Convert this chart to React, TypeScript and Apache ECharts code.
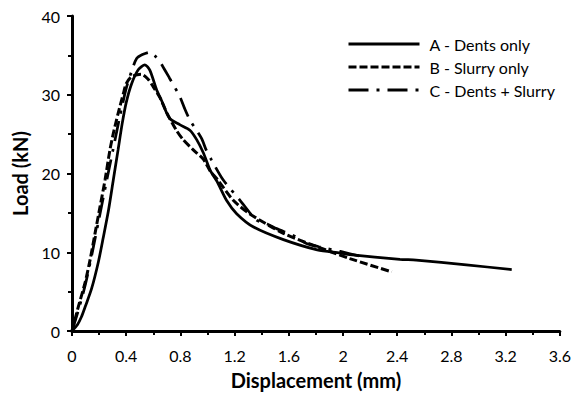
import React, { useEffect, useRef } from "react";
import * as echarts from "echarts";

const seriesNames = ["A - Dents only", "B - Slurry only", "C - Dents + Slurry"];

const dispA = [0, 0.04, 0.07, 0.1, 0.145, 0.195, 0.23, 0.27, 0.305, 0.34, 0.37, 0.4, 0.44, 0.49, 0.538, 0.575, 0.625, 0.66, 0.72, 0.795, 0.87, 0.92, 0.97, 1.02, 1.07, 1.14, 1.215, 1.34, 1.56, 1.81, 1.98, 2.05, 2.42, 2.54, 2.91, 3.245];
const loadA = [0, 0.8, 1.8, 3.2, 5.4, 8.8, 11.8, 15.4, 19.2, 23.0, 26.3, 29.0, 31.4, 33.2, 33.8, 33.1, 30.6, 29.3, 27.0, 26.2, 25.5, 24.3, 22.6, 20.4, 19.0, 16.6, 14.9, 13.2, 11.6, 10.3, 9.9, 9.7, 9.1, 9.0, 8.4, 7.8];

const dispB = [0, 0.047, 0.096, 0.133, 0.17, 0.207, 0.244, 0.28, 0.305, 0.34, 0.38, 0.4, 0.44, 0.51, 0.56, 0.6, 0.65, 0.7, 0.77, 0.82, 0.895, 0.97, 1.02, 1.07, 1.19, 1.31, 1.56, 1.81, 2.05, 2.36];
const loadB = [0, 3.1, 6.1, 9.0, 12.4, 15.8, 19.2, 23.0, 25.1, 27.6, 30.2, 31.4, 32.3, 32.6, 32.0, 31.0, 29.6, 27.7, 25.5, 24.3, 23.0, 21.8, 20.3, 19.3, 16.6, 14.9, 12.4, 10.7, 9.2, 7.5];

const dispC = [0, 0.05, 0.1, 0.15, 0.2, 0.25, 0.3, 0.35, 0.4, 0.44, 0.477, 0.52, 0.574, 0.62, 0.67, 0.72, 0.795, 0.83, 0.87, 0.955, 0.99, 1.03, 1.115, 1.24, 1.36, 1.44, 1.51, 1.65, 1.73, 1.82, 1.98, 2.15];
const loadC = [0, 2.8, 6.0, 10.0, 14.3, 18.6, 22.8, 27.0, 30.8, 33.0, 34.6, 35.1, 35.4, 34.8, 33.6, 32.1, 29.8, 28.3, 26.8, 24.5, 23.0, 21.7, 19.2, 16.6, 14.1, 13.6, 13.0, 12.0, 11.1, 10.7, 10.1, 9.4];

const xTitle = "Displacement (mm)";
const yTitle = "Load (kN)";

const FONT = "Lato";

function pairs(xs: number[], ys: number[]) {
  return xs.map((x, i) => [x, ys[i]]);
}

export default function App() {
  const ref = useRef<HTMLDivElement>(null);
  useEffect(() => {
    if (!ref.current) return;
    const chart = echarts.init(ref.current, null, { renderer: "svg" });
    const axisLine = { show: true, lineStyle: { color: "#000", width: 3 } };
    const tick = { show: true, length: 5, lineStyle: { color: "#000", width: 2 } };
    const minor = { show: true, splitNumber: 2, length: 4, lineStyle: { color: "#000", width: 2 } };
    chart.setOption({
      animation: false,
      backgroundColor: "#fff",
      color: ["#000", "#000", "#000"],
      textStyle: { fontFamily: FONT },
      grid: { left: 72, right: 14, top: 16, bottom: 68 },
      legend: {
        orient: "vertical",
        left: 347,
        top: 36,
        padding: 0,
        itemWidth: 71,
        itemHeight: 14,
        itemGap: 7,
        data: seriesNames,
        itemStyle: { opacity: 0 },
        lineStyle: { width: 3 },
        textStyle: { fontFamily: FONT, fontSize: 16, color: "#000", padding: [0, 0, 0, 5] },
      },
      xAxis: {
        type: "value",
        min: 0,
        max: 3.6,
        interval: 0.4,
        name: xTitle,
        nameLocation: "middle",
        nameGap: 39,
        nameTextStyle: { fontFamily: FONT, fontSize: 20, fontWeight: "bold", color: "#000" },
        axisLine,
        axisTick: tick,
        minorTick: minor,
        splitLine: { show: false },
        axisLabel: {
          fontFamily: FONT,
          fontSize: 16,
          color: "#000",
          margin: 16,
          formatter: (v: number) => String(Math.round(v * 10) / 10),
        },
      },
      yAxis: {
        type: "value",
        min: 0,
        max: 40,
        interval: 10,
        name: yTitle,
        nameLocation: "middle",
        nameGap: 42,
        nameTextStyle: { fontFamily: FONT, fontSize: 20, fontWeight: "bold", color: "#000" },
        axisLine,
        axisTick: tick,
        minorTick: minor,
        splitLine: { show: false },
        axisLabel: { fontFamily: FONT, fontSize: 16, color: "#000", margin: 12 },
      },
      series: [
        {
          name: seriesNames[0],
          type: "line",
          data: pairs(dispA, loadA),
          symbol: "none",
          smooth: 0.25,
          lineStyle: { color: "#000", width: 2.75, type: "solid" },
          z: 3,
        },
        {
          name: seriesNames[1],
          type: "line",
          data: pairs(dispB, loadB),
          symbol: "none",
          smooth: 0.25,
          lineStyle: { color: "#000", width: 3, type: [8, 3] },
          z: 2,
        },
        {
          name: seriesNames[2],
          type: "line",
          data: pairs(dispC, loadC),
          symbol: "none",
          smooth: 0.25,
          lineStyle: { color: "#000", width: 2.75, type: [20, 8, 3, 8] },
          z: 1,
        },
      ],
    });
    return () => chart.dispose();
  }, []);
  return <div ref={ref} style={{ width: 574, height: 399, position: "absolute", left: 0, top: 0 }} />;
}
